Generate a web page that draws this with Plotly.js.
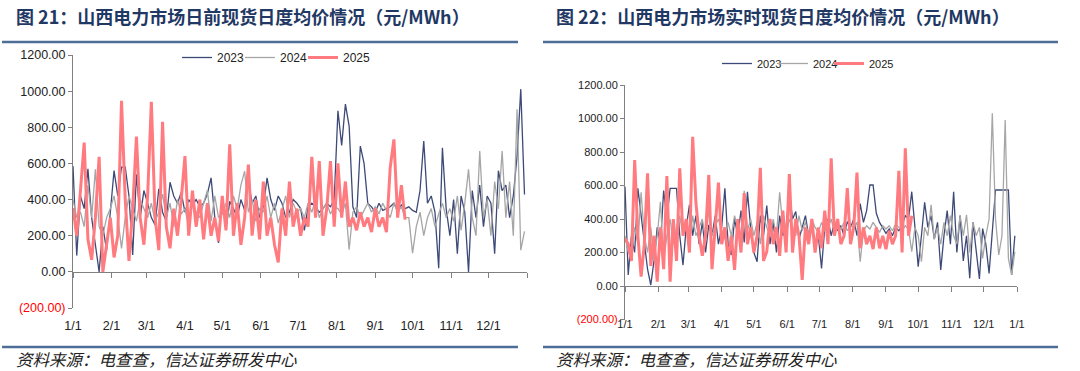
<!DOCTYPE html>
<html><head><meta charset="utf-8">
<script src="https://cdn.plot.ly/plotly-3.0.1.min.js"></script>
<style>html,body{margin:0;padding:0;background:#fff;} #chart{width:1080px;height:371px;}
#chart .legend .scrollbox, #chart .legend2 .scrollbox, #chart .scrollbox{clip-path:none !important;}</style>
</head><body><div id="chart"></div>
<script>
// sampled every 3 days starting 1/1
const STEP = 3;
const seriesNames = ['2023', '2024', '2025'];

// 日前 (day-ahead) prices
const da2023 = [585,90,420,350,570,300,150,0,250,120,330,
 560,420,580,580,420,94,540,300,450,
 380,300,260,460,330,280,496,420,380,440,
 330,400,370,400,360,380,430,520,300,160,
 420,230,390,350,300,400,340,500,380,420,300,
 360,520,400,340,420,380,300,330,400,380,
 350,230,360,380,360,330,350,380,360,400,
 891,700,928,807,360,300,696,600,380,360,
 330,380,340,350,360,380,340,370,350,360,
 340,330,450,724,380,420,330,20,687,350,200,
 400,100,420,330,0,450,300,480,250,420,
 380,100,560,450,480,300,420,640,1011,428];
const da2024 = [400,300,330,250,480,300,567,250,200,300,350,
 420,300,130,300,420,350,280,400,350,
 300,380,280,330,430,300,380,250,400,320,
 350,250,400,330,300,380,450,280,420,300,
 320,380,300,420,350,480,557,330,400,280,350,
 330,420,300,380,270,350,420,300,380,330,
 350,300,380,330,400,300,350,380,320,360,
 350,320,380,122,330,360,300,340,380,330,
 360,320,380,340,300,380,330,360,300,300,
 104,250,330,200,300,350,250,320,380,300,350,
 280,420,230,380,567,300,200,669,300,400,
 200,500,350,669,300,500,200,900,120,224];
const da2025 = [354,200,450,715,180,67,300,637,0,150,300,
 80,200,946,400,60,350,748,300,150,
 420,941,300,120,830,250,130,350,200,400,
 641,200,450,250,400,180,380,200,300,170,
 420,230,706,200,380,150,300,594,200,400,180,
 500,200,300,150,52,350,200,500,250,350,
 200,300,250,637,300,613,200,350,613,250,
 600,300,500,250,300,230,330,250,300,220,
 350,250,300,220,576,733,300,480,289];

// 实时 (real-time) prices
const rt2023 = [593,66,300,200,583,420,250,100,6,150,350,
 250,570,400,583,583,583,300,125,350,
 485,300,420,250,380,200,365,300,420,250,
 350,583,250,185,400,300,450,260,563,350,
 200,145,420,300,480,250,380,200,420,300,350,
 563,400,445,280,350,420,300,380,250,300,
 105,350,400,300,380,330,360,300,384,350,
 400,300,492,380,450,603,603,434,380,350,
 315,340,300,350,330,360,420,400,563,350,
 115,300,500,350,420,280,380,96,300,450,250,
 563,200,420,150,300,46,380,200,42,343,
 250,75,300,573,573,573,573,573,66,300];
const rt2024 = [300,200,180,350,250,560,300,200,350,150,300,
 503,145,300,400,250,350,420,300,380,
 250,420,300,350,400,280,450,300,360,400,
 330,280,380,300,420,350,300,568,330,400,
 300,380,250,420,350,300,400,300,560,350,300,
 400,350,300,420,330,380,300,400,350,320,
 380,330,350,400,320,360,340,380,330,360,
 350,380,145,330,360,340,380,350,320,360,
 340,360,330,370,350,330,360,340,205,350,
 300,145,350,300,485,280,350,250,380,300,420,
 300,250,420,300,425,200,380,300,350,165,
 300,400,1031,400,185,300,991,165,66,205];
const rt2025 = [285,250,150,752,300,56,250,673,120,300,26,
 350,100,657,26,400,150,702,300,400,
 200,891,500,300,180,300,663,100,350,617,
 250,350,150,300,96,400,200,555,250,350,
 200,300,706,150,205,400,250,350,180,450,200,
 669,200,400,300,36,350,250,400,200,350,
 225,450,250,762,300,400,250,300,585,250,
 350,677,225,350,250,300,220,350,225,300,
 220,330,250,300,687,200,822,300,420];

const monthTicks = ['2023-01-01','2023-02-01','2023-03-01','2023-04-01','2023-05-01','2023-06-01',
 '2023-07-01','2023-08-01','2023-09-01','2023-10-01','2023-11-01','2023-12-01','2024-01-01'];
const monthLabelsDA = ['1/1','2/1','3/1','4/1','5/1','6/1','7/1','8/1','9/1','10/1','11/1','12/1',''];
const monthLabelsRT = ['1/1','2/1','3/1','4/1','5/1','6/1','7/1','8/1','9/1','10/1','11/1','12/1','1/1'];
const yTicks = [-200,0,200,400,600,800,1000,1200];
const yLabels = ['<span style="color:#ff0000">(200.00)</span>','0.00','200.00','400.00','600.00','800.00','1000.00','1200.00'];

function dates(n){
  const out=[];
  for(let i=0;i<n;i++){
    const d=new Date(Date.UTC(2023,0,1+STEP*i));
    out.push(d.toISOString().slice(0,10));
  }
  return out;
}

const colors = ['#3d4a78','#a6a6a6','#ff7b7f'];
const widths = [1.3,1.3,3];

function mk(vals, k, xa, ya, leg){
  return {x: dates(vals.length), y: vals, type:'scatter', mode:'lines', name: seriesNames[k],
    line:{color:colors[k], width:widths[k]}, xaxis:xa, yaxis:ya, legend:leg, showlegend:true};
}

const traces = [
  mk(da2023,0,'x','y','legend'), mk(da2024,1,'x','y','legend'), mk(da2025,2,'x','y','legend'),
  mk(rt2023,0,'x2','y2','legend2'), mk(rt2024,1,'x2','y2','legend2'), mk(rt2025,2,'x2','y2','legend2'),
  {x:[], y:[], type:'scatter', xaxis:'x3', yaxis:'y', showlegend:false, hoverinfo:'skip'},
  {x:[], y:[], type:'scatter', xaxis:'x4', yaxis:'y2', showlegend:false, hoverinfo:'skip'}
];

const tf = {family:'Liberation Sans, Arial, sans-serif', color:'#222'};
function xMain(dom, size, labels){
  return {domain:dom, type:'date', range:['2023-01-01','2024-01-01'], tickmode:'array',
    tickvals: monthTicks, ticktext: labels, ticks:'outside', ticklen:6, tickcolor:'rgba(0,0,0,0)',
    showline:false, showgrid:false, zeroline:false, tickfont:Object.assign({size:size}, tf), fixedrange:true};
}
function xZero(over, pos){
  return {overlaying:over, anchor:'free', position:pos, type:'date', range:['2023-01-01','2024-01-01'],
    tickmode:'array', tickvals: monthTicks, showticklabels:false, ticks:'outside', ticklen:5, tickcolor:'#808080',
    showline:true, linecolor:'#808080', linewidth:1, showgrid:false, zeroline:false};
}
function yAx(dom, size, anchor){
  return {domain:dom, range:[-200,1200], tickmode:'array', tickvals:yTicks, ticktext:yLabels,
    showline:true, linecolor:'#808080', ticks:'outside', ticklen:4, tickcolor:'#808080',
    showgrid:false, zeroline:false, tickfont:Object.assign({size:size}, tf), anchor:anchor, fixedrange:true};
}

const H = 371, W = 1080;
const lineColor = '#4d6f97';
const layout = {
  width:W, height:H, margin:{l:0,r:0,t:0,b:0}, paper_bgcolor:'#ffffff', plot_bgcolor:'rgba(0,0,0,0)',
  xaxis: xMain([73/W, 527/W], 12.5, monthLabelsDA),
  yaxis: yAx([1-308/H, 1-55/H], 12.5, 'x'),
  xaxis3: xZero('x', 1-272/H),
  xaxis2: xMain([625/W, 1017/W], 11, monthLabelsRT),
  yaxis2: yAx([1-319.5/H, 1-85/H], 11, 'x2'),
  xaxis4: xZero('x2', 1-286/H),
  legend: {orientation:'h', x:177/W, xanchor:'left', y:1-43/H, yanchor:'top', bgcolor:'rgba(0,0,0,0)',
    entrywidth:18, entrywidthmode:'pixels',
    font:{family:'Liberation Sans, Arial, sans-serif', size:12, color:'#222'}, traceorder:'normal'},
  legend2: {orientation:'h', x:717/W, xanchor:'left', y:1-49/H, yanchor:'top', bgcolor:'rgba(0,0,0,0)',
    entrywidth:11, entrywidthmode:'pixels',
    font:{family:'Liberation Sans, Arial, sans-serif', size:11, color:'#222'}, traceorder:'normal'},
  shapes: [
    {type:'line', xref:'paper', yref:'paper', x0:2/W, x1:518/W, y0:1-42/H, y1:1-42/H, line:{color:lineColor, width:2.5}},
    {type:'line', xref:'paper', yref:'paper', x0:543/W, x1:1058/W, y0:1-42/H, y1:1-42/H, line:{color:lineColor, width:2.5}},
    {type:'line', xref:'paper', yref:'paper', x0:2/W, x1:518/W, y0:1-347/H, y1:1-347/H, line:{color:lineColor, width:2.5}},
    {type:'line', xref:'paper', yref:'paper', x0:543/W, x1:1058/W, y0:1-347/H, y1:1-347/H, line:{color:lineColor, width:2.5}}
  ],
  annotations: [
    {text:'<b>图 21：山西电力市场日前现货日度均价情况（元/MWh）</b>', xref:'paper', yref:'paper', x:14/W, y:1-16/H,
     xanchor:'left', yanchor:'middle', showarrow:false, font:{family:'Noto Sans CJK SC', size:18, color:'#1f3864'}},
    {text:'<b>图 22：山西电力市场实时现货日度均价情况（元/MWh）</b>', xref:'paper', yref:'paper', x:554/W, y:1-16/H,
     xanchor:'left', yanchor:'middle', showarrow:false, font:{family:'Noto Sans CJK SC', size:18, color:'#1f3864'}},
    {text:'<i>资料来源：电查查，信达证券研发中心</i>', xref:'paper', yref:'paper', x:14/W, y:1-359/H,
     xanchor:'left', yanchor:'middle', showarrow:false, font:{family:'Noto Sans CJK SC', size:16.5, color:'#222'}},
    {text:'<i>资料来源：电查查，信达证券研发中心</i>', xref:'paper', yref:'paper', x:554/W, y:1-359/H,
     xanchor:'left', yanchor:'middle', showarrow:false, font:{family:'Noto Sans CJK SC', size:16.5, color:'#222'}}
  ]
};

Plotly.newPlot('chart', traces, layout, {staticPlot:true, displayModeBar:false});
</script>
</body></html>
